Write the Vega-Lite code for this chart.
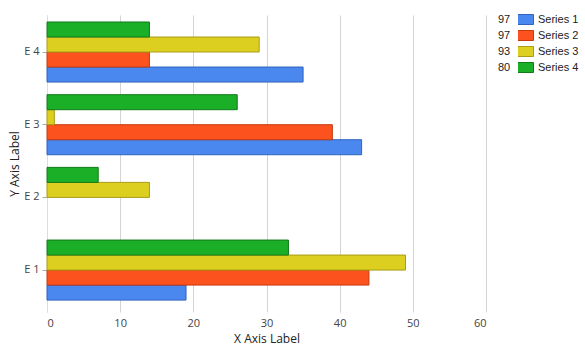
{
  "$schema": "https://vega.github.io/schema/vega-lite/v6.json",
  "width": 439,
  "height": 297,
  "autosize": {"type": "none"},
  "padding": {"left": 47, "top": 15, "right": 99, "bottom": 41},
  "background": "white",
  "config": {
    "view": {"stroke": null},
    "font": "Open Sans"
  },
  "datasets": {
    "bars": [
      {"Category": "E 1", "Series": "Series 1", "Value": 19},
      {"Category": "E 1", "Series": "Series 2", "Value": 44},
      {"Category": "E 1", "Series": "Series 3", "Value": 49},
      {"Category": "E 1", "Series": "Series 4", "Value": 33},
      {"Category": "E 2", "Series": "Series 1", "Value": 0},
      {"Category": "E 2", "Series": "Series 2", "Value": 0},
      {"Category": "E 2", "Series": "Series 3", "Value": 14},
      {"Category": "E 2", "Series": "Series 4", "Value": 7},
      {"Category": "E 3", "Series": "Series 1", "Value": 43},
      {"Category": "E 3", "Series": "Series 2", "Value": 39},
      {"Category": "E 3", "Series": "Series 3", "Value": 1},
      {"Category": "E 3", "Series": "Series 4", "Value": 26},
      {"Category": "E 4", "Series": "Series 1", "Value": 35},
      {"Category": "E 4", "Series": "Series 2", "Value": 14},
      {"Category": "E 4", "Series": "Series 3", "Value": 29},
      {"Category": "E 4", "Series": "Series 4", "Value": 14}
    ],
    "totals": [
      {"key": "1:97"},
      {"key": "2:97"},
      {"key": "3:93"},
      {"key": "4:80"}
    ]
  },
  "layer": [
    {
      "data": {"name": "bars"},
      "mark": {"type": "bar", "strokeWidth": 1},
      "encoding": {
        "y": {
          "field": "Category",
          "type": "nominal",
          "sort": ["E 4", "E 3", "E 2", "E 1"],
          "scale": {"paddingInner": 0.174, "paddingOuter": 0.13, "align": 0.37},
          "axis": {
            "title": "Y Axis Label",
            "titleFontSize": 12,
            "titleFontWeight": "normal",
            "titleColor": "#222222",
            "titlePadding": 2,
            "labelFontSize": 11,
            "labelColor": "#444444",
            "labelPadding": 3,
            "tickSize": 5,
            "tickColor": "#aaaaaa",
            "domain": true,
            "domainColor": "#dddddd",
            "grid": false
          }
        },
        "yOffset": {
          "field": "Series",
          "type": "nominal",
          "sort": ["Series 4", "Series 3", "Series 2", "Series 1"],
          "scale": {"paddingInner": 0, "paddingOuter": 0}
        },
        "x": {
          "field": "Value",
          "type": "quantitative",
          "scale": {"domain": [0, 60], "nice": false},
          "axis": {
            "title": "X Axis Label",
            "titleFontSize": 12,
            "titleFontWeight": "normal",
            "titleColor": "#222222",
            "titlePadding": 5,
            "labelFontSize": 11,
            "labelColor": "#444444",
            "labelPadding": 5,
            "tickCount": 6,
            "ticks": false,
            "domain": false,
            "grid": true,
            "gridColor": "#d4d4d4"
          }
        },
        "strokeOpacity": {
          "condition": {"test": "datum.Value == 0", "value": 0},
          "value": 1
        },
        "color": {
          "field": "Series",
          "type": "nominal",
          "scale": {
            "domain": ["Series 1", "Series 2", "Series 3", "Series 4"],
            "range": ["#4a87ee", "#fc521d", "#dccf20", "#1bae27"]
          },
          "legend": {
            "title": null,
            "orient": "none",
            "legendX": 471,
            "legendY": -1,
            "symbolType": "M-2,-1H2V1H-2Z",
            "symbolSize": 100,
            "symbolStrokeWidth": 1,
            "labelFont": "Liberation Sans",
            "labelFontSize": 11,
            "labelColor": "#222222",
            "labelOffset": 9,
            "clipHeight": 11,
            "rowPadding": 4,
            "padding": 0
          }
        },
        "stroke": {
          "field": "Series",
          "type": "nominal",
          "scale": {
            "domain": ["Series 1", "Series 2", "Series 3", "Series 4"],
            "range": ["#2f63bd", "#c53a10", "#a89d14", "#137a1b"]
          },
          "legend": {
            "title": null,
            "orient": "none",
            "legendX": 471,
            "legendY": -1,
            "symbolType": "M-2,-1H2V1H-2Z",
            "symbolSize": 100,
            "labelFont": "Liberation Sans",
            "labelFontSize": 11,
            "labelColor": "#222222",
            "labelOffset": 9,
            "clipHeight": 11,
            "rowPadding": 4,
            "padding": 0
          }
        }
      }
    },
    {
      "data": {"name": "totals"},
      "mark": {"type": "point", "opacity": 0},
      "encoding": {
        "x": {"datum": 0, "type": "quantitative"},
        "y": {"datum": "E 1", "type": "nominal"},
        "shape": {
          "field": "key",
          "type": "nominal",
          "legend": {
            "title": null,
            "orient": "none",
            "legendX": 440,
            "legendY": -1,
            "symbolOpacity": 0,
            "symbolSize": 0,
            "labelExpr": "split(datum.label, ':')[1]",
            "labelFont": "Liberation Sans",
            "labelFontSize": 11,
            "labelColor": "#222222",
            "labelOffset": 0,
            "clipHeight": 11,
            "rowPadding": 4,
            "padding": 0
          }
        }
      }
    }
  ]
}
